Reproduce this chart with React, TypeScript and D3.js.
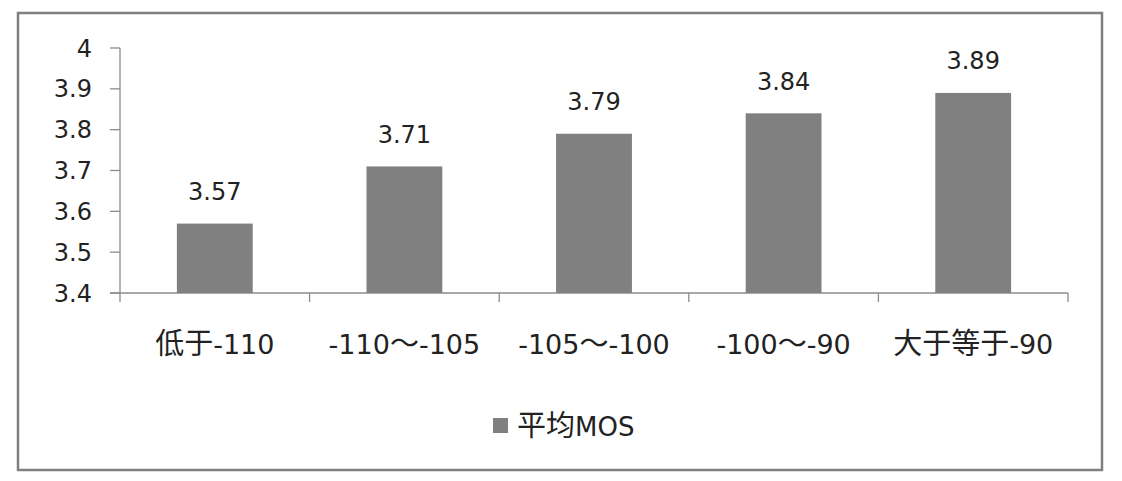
import React from "react";
import * as d3 from "d3";

const categories = ["低于-110", "-110～-105", "-105～-100", "-100～-90", "大于等于-90"];
const values = [3.57, 3.71, 3.79, 3.84, 3.89];
const yTicks = [3.4, 3.5, 3.6, 3.7, 3.8, 3.9, 4];
const seriesName = "平均MOS";

const W = 1122;
const H = 481;
const LATIN = "'DejaVu Sans', 'Noto Sans CJK SC', sans-serif";
const CJK = "'Noto Sans CJK SC', sans-serif";
const BAR = "#808080";
const AXIS = "#8c8c8c";
const TXT = "#222";

function MixedText({ s, latinSize, cjkSize }: { s: string; latinSize: number; cjkSize: number }) {
  const runs: { t: string; cjk: boolean }[] = [];
  for (const ch of s) {
    const cjk = /[\u3000-\u9fff\uff00-\uffef]/.test(ch);
    const last = runs[runs.length - 1];
    if (last && last.cjk === cjk) last.t += ch;
    else runs.push({ t: ch, cjk });
  }
  return (
    <>
      {runs.map((r, i) => (
        <tspan key={i} fontFamily={r.cjk ? CJK : LATIN} fontSize={r.cjk ? cjkSize : latinSize}>
          {r.t}
        </tspan>
      ))}
    </>
  );
}

export default function App() {
  const x = d3.scaleBand<string>().domain(categories).range([120, 1068]).paddingInner(0.6).paddingOuter(0.3);
  const y = d3.scaleLinear().domain([3.4, 4]).range([293, 48]);
  const step = (1068 - 120) / categories.length;

  return (
    <svg width={W} height={H} style={{ position: "absolute", left: 0, top: 0 }}>
      <rect x={0} y={0} width={W} height={H} fill="#fff" />
      <rect x={18} y={13} width={1084} height={457} fill="#fff" stroke="#7f7f7f" strokeWidth={2.5} />
      {/* y axis */}
      <line x1={120} x2={120} y1={y(4)} y2={y(3.4)} stroke={AXIS} strokeWidth={1.3} />
      {yTicks.map((t) => (
        <g key={t}>
          <line x1={110} x2={120} y1={y(t)} y2={y(t)} stroke={AXIS} strokeWidth={1.3} />
          <text x={92} y={y(t)} dy="0.36em" textAnchor="end" fontFamily={LATIN} fontSize={24} fill={TXT}>
            {d3.format("")(t)}
          </text>
        </g>
      ))}
      {/* x axis */}
      <line x1={110} x2={1068} y1={293} y2={293} stroke={AXIS} strokeWidth={1.3} />
      {d3.range(categories.length + 1).map((i) => (
        <line key={i} x1={120 + i * step} x2={120 + i * step} y1={293} y2={302} stroke={AXIS} strokeWidth={1.3} />
      ))}
      {/* bars */}
      {categories.map((c, i) => (
        <g key={c}>
          <rect x={x(c)} y={y(values[i])} width={x.bandwidth()} height={y(3.4) - y(values[i])} fill={BAR} />
          <text
            x={(x(c) as number) + x.bandwidth() / 2}
            y={y(values[i]) - 23.5}
            textAnchor="middle"
            fontFamily={LATIN}
            fontSize={24}
            fill={TXT}
          >
            {values[i]}
          </text>
          <text x={120 + (i + 0.5) * step} y={354} textAnchor="middle" fill={TXT}>
            <MixedText s={c} latinSize={27} cjkSize={29} />
          </text>
        </g>
      ))}
      {/* legend */}
      <rect x={493} y={418} width={15} height={15} fill={BAR} />
      <text x={517} y={436} fill={TXT}>
        <MixedText s={seriesName} latinSize={26} cjkSize={29} />
      </text>
    </svg>
  );
}
